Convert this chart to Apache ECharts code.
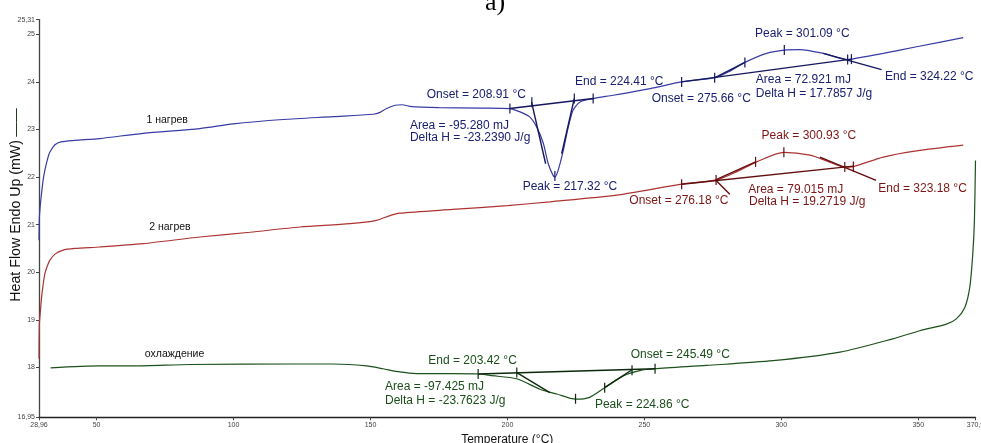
<!DOCTYPE html>
<html>
<head>
<meta charset="utf-8">
<script src="https://cdn.jsdelivr.net/npm/echarts@6/dist/echarts.min.js"></script>
<style>
  html, body { margin: 0; padding: 0; background: #fff; }
  #chart { width: 981px; height: 443px; }
</style>
</head>
<body>
<div id="chart"></div>
<script>
// ---- axis ticks ----
const xTicks = [28.96, 50, 100, 150, 200, 250, 300, 350, 370.9];
const yTicks = [16.95, 18, 19, 20, 21, 22, 23, 24, 25, 25.31];

// ---- 1st heating run (temperature °C, heat flow mW) ----
const heat1Temp = [28.96, 29.1, 29.5, 29.9, 30.5, 31.1, 32.0, 32.9, 34.8, 37.0, 42.0, 51.2, 67.0, 87.7, 99.9, 118.1, 136.4, 151.0, 153.5, 155.9, 159.0, 161.5, 165.0, 175.0, 190.0, 200.9, 204.6, 208.2, 210.7, 213.1, 214.9, 216.7, 217.32, 218.5, 220.4, 222.2, 224.0, 226.5, 231.3, 238.6, 252.1, 263.6, 275.8, 281.0, 286.7, 294.6, 301.09, 306.8, 315.3, 324.4, 327.5, 337.2, 349.4, 366.4];
const heat1Flow = [20.67, 21.15, 21.45, 21.66, 21.95, 22.14, 22.36, 22.52, 22.68, 22.74, 22.77, 22.81, 22.92, 23.02, 23.12, 23.21, 23.27, 23.32, 23.36, 23.44, 23.51, 23.52, 23.48, 23.46, 23.45, 23.44, 23.37, 23.26, 23.05, 22.71, 22.28, 22.03, 22.00, 22.14, 22.56, 23.05, 23.41, 23.58, 23.65, 23.72, 23.86, 24.00, 24.09, 24.22, 24.41, 24.60, 24.67, 24.68, 24.60, 24.47, 24.50, 24.60, 24.74, 24.93];

// ---- 2nd heating run ----
const heat2Temp = [28.96, 29.1, 29.5, 29.9, 30.5, 31.1, 32.0, 32.9, 34.8, 37.5, 42.0, 51.2, 67.0, 87.7, 106.0, 124.2, 142.5, 152.2, 157.1, 160.8, 180.0, 200.0, 215.5, 239.9, 263.6, 276.4, 284.0, 291.0, 300.93, 310.5, 317.0, 323.2, 326.3, 337.2, 349.4, 366.4];
const heat2Flow = [18.18, 18.92, 19.20, 19.47, 19.75, 19.97, 20.13, 20.25, 20.38, 20.46, 20.50, 20.53, 20.60, 20.74, 20.84, 20.95, 21.02, 21.09, 21.19, 21.24, 21.32, 21.40, 21.48, 21.62, 21.85, 21.94, 22.12, 22.32, 22.52, 22.46, 22.33, 22.21, 22.22, 22.42, 22.55, 22.67];

// ---- cooling run ----
const coolTemp = [33.2, 51.2, 63.4, 84.1, 121.8, 136.4, 148.6, 154.6, 160.0, 166.8, 179.0, 189.9, 193.6, 203.4, 211.9, 218.0, 224.86, 230.0, 235.5, 242.3, 248.3, 253.8, 272.7, 297.0, 321.4, 340.7, 350.6, 360.3, 363.9, 367.0, 368.8, 369.9, 370.5, 370.9];
const coolFlow = [17.99, 18.03, 18.03, 18.06, 18.07, 18.07, 18.03, 17.97, 17.91, 17.87, 17.87, 17.86, 17.83, 17.76, 17.54, 17.44, 17.33, 17.37, 17.57, 17.82, 17.93, 17.97, 18.04, 18.14, 18.32, 18.60, 18.77, 18.91, 19.02, 19.26, 19.68, 20.38, 21.08, 22.35];

// ---- peak-analysis construction lines (baselines and tangents) ----
const heat1DipBase   = [[200.9, 23.44], [231.3, 23.65]];
const heat1DipLeft   = [[208.8, 23.58], [213.95, 22.28]];
const heat1DipRight  = [[224.4, 23.65], [219.8, 22.49]];
const heat1PeakBase  = [[263.6, 24.00], [325.6, 24.48]];
const heat1PeakLeft  = [[275.8, 24.09], [286.7, 24.41]];
const heat1PeakRight = [[315.3, 24.60], [336.6, 24.26]];

const heat2PeakBase  = [[263.6, 21.85], [326.3, 22.23]];
const heat2PeakLeft  = [[276.0, 21.94], [290.6, 22.32]];
const heat2Pointer   = [[276.0, 21.94], [281.2, 21.64]];
const heat2PeakRight = [[314.1, 22.42], [334.6, 21.93]];

const coolBase  = [[189.3, 17.86], [253.9, 17.97]];
const coolLeft  = [[203.42, 17.89], [215.5, 17.47]];
const coolRight = [[245.49, 17.95], [235.6, 17.58]];

// ---- characteristic points (tick marks) ----
const heat1Marks = [[200.9, 23.44], [208.91, 23.57], [217.32, 22.02], [224.41, 23.65], [231.3, 23.65],
                    [263.6, 24.00], [275.66, 24.09], [286.7, 24.41], [301.09, 24.67], [324.22, 24.47], [325.6, 24.48]];
const heat2Marks = [[263.6, 21.85], [276.18, 21.94], [290.6, 22.32], [300.93, 22.52], [323.18, 22.21], [326.3, 22.22]];
const coolMarks  = [[189.3, 17.86], [203.42, 17.89], [224.86, 17.34], [235.5, 17.57], [245.49, 17.94], [253.9, 17.97]];

// ---- styling ----
const FONT = '"Liberation Sans", Arial, sans-serif';
const BLUE = '#383ba4', BLUE_DARK = '#15185e', BLUE_TEXT = '#1a2070';
const RED = '#ad3333', RED_DARK = '#620d0d', RED_TEXT = '#7c1414';
const GREEN = '#1d501d', GREEN_DARK = '#0c280c', GREEN_TEXT = '#1a4f1a';

const pairs = (t, v) => t.map((x, i) => [x, v[i]]);

const curve = (name, t, v, color) => ({
  type: 'line', name, data: pairs(t, v), showSymbol: false, smooth: 0.25,
  lineStyle: { color, width: 1.2 }, silent: true, z: 2, animation: false
});
const segment = (pts, color) => ({
  type: 'line', data: pts, showSymbol: false,
  lineStyle: { color, width: 1.4 }, silent: true, z: 3, animation: false
});
const marks = (pts, color) => ({
  type: 'scatter', data: pts, symbol: 'rect', symbolSize: [1.2, 10],
  itemStyle: { color, opacity: 1 }, silent: true, z: 4, animation: false
});
const notes = (list, color, size) => ({
  type: 'scatter', symbolSize: 0, itemStyle: { color: 'rgba(0,0,0,0)', opacity: 1 },
  data: list.map(n => ({ value: n.at, label: { formatter: n.text } })),
  label: { show: true, position: 'right', distance: 0, color, opacity: 1, fontSize: size, fontFamily: FONT },
  silent: true, z: 5, animation: false
});

// text annotations, anchored at their left edge
const heat1Notes = [
  { text: 'Onset = 208.91 °C', at: [170.5, 23.74] },
  { text: 'End = 224.41 °C', at: [224.65, 24.00] },
  { text: 'Area = -95.280 mJ', at: [164.4, 23.09] },
  { text: 'Delta H = -23.2390 J/g', at: [164.4, 22.82] },
  { text: 'Peak = 217.32 °C', at: [205.55, 21.79] },
  { text: 'Onset = 275.66 °C', at: [252.65, 23.64] },
  { text: 'Peak = 301.09 °C', at: [290.4, 25.02] },
  { text: 'Area = 72.921 mJ', at: [290.7, 24.05] },
  { text: 'Delta H = 17.7857 J/g', at: [290.7, 23.76] },
  { text: 'End = 324.22 °C', at: [337.85, 24.10] }
];
const heat2Notes = [
  { text: 'Peak = 300.93 °C', at: [292.8, 22.88] },
  { text: 'Onset = 276.18 °C', at: [244.5, 21.50] },
  { text: 'Area = 79.015 mJ', at: [287.9, 21.74] },
  { text: 'Delta H = 19.2719 J/g', at: [288.2, 21.48] },
  { text: 'End = 323.18 °C', at: [335.4, 21.76] }
];
const coolNotes = [
  { text: 'End = 203.42 °C', at: [171.1, 18.13] },
  { text: 'Area = -97.425 mJ', at: [155.3, 17.59] },
  { text: 'Delta H = -23.7623 J/g', at: [155.3, 17.30] },
  { text: 'Onset = 245.49 °C', at: [244.98, 18.27] },
  { text: 'Peak = 224.86 °C', at: [231.95, 17.21] }
];
const runNames = [
  { text: '1 нагрев', at: [68.2, 23.20] },
  { text: '2 нагрев', at: [69.2, 20.94] },
  { text: 'охлаждение', at: [67.6, 18.28] }
];

const tickFmt = v => String(v).replace('.', ',');

const chart = echarts.init(document.getElementById('chart'));
chart.setOption({
  animation: false,
  backgroundColor: '#fff',
  grid: { left: 39, right: 5.5, top: 19.6, bottom: 25.7, containLabel: false, outerBoundsMode: 'none' },
  xAxis: {
    type: 'value', min: xTicks[0], max: xTicks[xTicks.length - 1],
    name: 'Temperature (°C)', nameLocation: 'middle', nameGap: 13,
    nameTextStyle: { fontFamily: FONT, fontSize: 12, color: '#111' },
    axisLine: { lineStyle: { color: '#222', width: 1.4 } },
    axisTick: { customValues: xTicks, length: 3, lineStyle: { color: '#444' } },
    axisLabel: { customValues: xTicks, formatter: tickFmt, fontSize: 7, color: '#444', fontFamily: FONT, margin: 4, hideOverlap: false },
    splitLine: { show: false }
  },
  yAxis: {
    type: 'value', min: yTicks[0], max: yTicks[yTicks.length - 1],
    axisLine: { show: true, lineStyle: { color: '#444', width: 1.3 } },
    axisTick: { show: true, customValues: yTicks, length: 3, lineStyle: { color: '#444' } },
    axisLabel: { customValues: yTicks, formatter: tickFmt, fontSize: 7, color: '#444', fontFamily: FONT, margin: 4, hideOverlap: false },
    splitLine: { show: false }
  },
  graphic: [
    {
      type: 'text', x: 495, y: -10,
      style: { text: 'a)', font: '26px "Liberation Serif", "Times New Roman", serif', fill: '#000', align: 'center', verticalAlign: 'top' }
    },
    {
      type: 'text', x: 16, y: 205, rotation: Math.PI / 2,
      style: {
        text: '{a|Heat Flow Endo Up (mW)} {b|——}',
        align: 'center', verticalAlign: 'middle',
        rich: {
          a: { fontFamily: FONT, fontSize: 14.2, fill: '#111' },
          b: { fontFamily: FONT, fontSize: 14.2, fill: '#1d3d1d' }
        }
      }
    }
  ],
  series: [
    curve('1 нагрев', heat1Temp, heat1Flow, BLUE),
    curve('2 нагрев', heat2Temp, heat2Flow, RED),
    curve('охлаждение', coolTemp, coolFlow, GREEN),

    segment(heat1DipBase, BLUE_DARK), segment(heat1DipLeft, BLUE_DARK), segment(heat1DipRight, BLUE_DARK),
    segment(heat1PeakBase, BLUE_DARK), segment(heat1PeakLeft, BLUE_DARK), segment(heat1PeakRight, BLUE_DARK),
    segment(heat2PeakBase, RED_DARK), segment(heat2PeakLeft, RED_DARK), segment(heat2Pointer, RED_DARK), segment(heat2PeakRight, RED_DARK),
    segment(coolBase, GREEN_DARK), segment(coolLeft, GREEN_DARK), segment(coolRight, GREEN_DARK),

    marks(heat1Marks, BLUE_DARK), marks(heat2Marks, RED_DARK), marks(coolMarks, GREEN_DARK),

    notes(heat1Notes, BLUE_TEXT, 12), notes(heat2Notes, RED_TEXT, 12), notes(coolNotes, GREEN_TEXT, 12),
    notes(runNames, '#111', 10.5)
  ]
});
</script>
</body>
</html>
